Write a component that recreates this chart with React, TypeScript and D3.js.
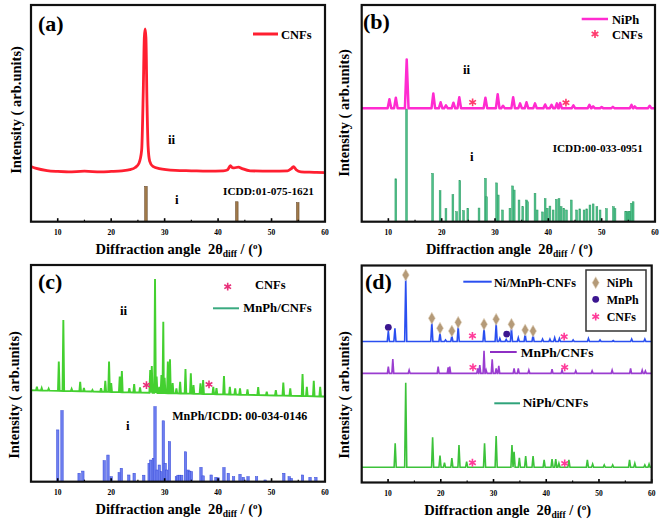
import React from "react";
import * as d3 from "d3";

type P = [number, number];

const X_DOMAIN: P = [5, 60];
const majorTicks = [10, 20, 30, 40, 50, 60];
const minorTicks = [5, 15, 25, 35, 45, 55];

// ---------- Panel (a) ----------
const aCNFsCurve: P[] = [
  [5, 25.5], [6, 24.6], [8, 23.6], [10, 23.2], [12, 23.0], [15, 23.3], [18, 23.0], [20, 23.2],
  [22, 23.5], [23.5, 24.0], [24.5, 25.0], [25.2, 27.0], [25.7, 33], [26.0, 60], [26.2, 85],
  [26.35, 89], [26.5, 85], [26.7, 55], [26.9, 35], [27.2, 28], [27.8, 25.5], [29, 24.5],
  [32, 23.7], [35, 23.5], [38, 23.3], [41, 23.5], [41.8, 24.0], [42.3, 25.9], [42.6, 25.0],
  [43, 24.8], [43.8, 25.2], [44.5, 24.5], [46, 23.5], [50, 23.3], [53, 23.5], [53.7, 24.5],
  [54.1, 25.4], [54.6, 24.0], [55.5, 23.0], [58, 22.8], [60, 22.6],
];
const aICDDBars: P[] = [[26.5, 16.3], [43.5, 9.2], [54.9, 8.8]];

// ---------- Panel (b) ----------
const bNiPhBase = 52.3;
const bNiPhPeaks: P[] = [
  [10.2, 56.5], [11.4, 57.2], [13.44, 74.9], [18.43, 59.2], [19.8, 55.1], [20.8, 53.7],
  [22.2, 54.9], [23.3, 57.4], [28.2, 57.2], [30.5, 58.8], [31.5, 53.5], [33.4, 57.4],
  [34.7, 54.6], [35.9, 55.1], [37.5, 54.6], [39.4, 54.1], [40.6, 53.9], [41.6, 54.6],
  [42.2, 54.8], [44.7, 53.7], [47.7, 53.9], [48.4, 53.2], [50.0, 52.9], [52.1, 53.0],
  [55.6, 53.9], [56.2, 53.2], [59.0, 53.5],
];
const bCNFsMarks: P[] = [[25.8, 55.1], [43.3, 54.9]];
const bICDDBars: P[] = [
  [11.4, 19.8], [13.4, 52], [18.3, 22.3], [19.7, 14.3], [20.8, 6], [22.1, 12.5], [22.8, 4.6],
  [23.4, 18.9], [24.1, 5.1], [24.9, 6.2], [27.0, 6.3], [28.2, 20], [28.4, 11.5], [30.3, 17.9],
  [30.6, 12.3], [31.4, 5.4], [32.8, 6.2], [33.3, 16.5], [33.6, 14.6], [34.5, 10], [35.2, 6.9],
  [35.9, 10], [36.1, 9.2], [37.5, 13.1], [37.9, 5.4], [38.9, 4.5], [39.4, 10.6], [39.8, 6.2],
  [40.3, 7.2], [40.9, 5.4], [41.5, 10.3], [42.0, 10.6], [42.4, 6.9], [42.9, 6.2], [43.4, 5.4],
  [44.3, 10], [45.3, 5.4], [45.9, 5.9], [46.7, 5.4], [47.2, 5.9], [47.8, 7.7], [48.4, 8.2],
  [49.1, 6.9], [49.7, 5.4], [50.9, 6], [52.2, 6.9], [52.5, 6], [54.5, 4.6], [54.8, 4.6],
  [55.1, 4.6], [55.3, 4.6], [55.6, 8.5], [55.9, 9.2],
];

// ---------- Panel (c) ----------
const cBaseEnds: P = [42.2, 39.3];
const cMnPhPeaks: P[] = [
  [6.1, 43.8], [7.0, 43.2], [8.3, 42.9], [10.2, 55.4], [11.05, 74.6], [12.6, 42.8], [14.2, 46.1],
  [14.9, 43.2], [16.5, 42.3], [18.1, 43.2], [18.9, 46.6], [19.6, 55.4], [20.0, 45.5], [21.6, 48.5],
  [22.0, 51.1], [23.4, 43.1], [24.3, 45.1], [25.4, 43.5], [27.3, 51.5], [27.6, 53.4], [28.2, 93.5],
  [28.5, 48.5], [29.0, 43.8], [29.4, 49.2], [29.75, 73.8], [30.0, 47.9], [30.6, 55.4], [31.0, 56.5],
  [31.5, 45.5], [32.2, 43.0], [32.9, 46.1], [33.9, 52.0], [34.9, 50.0], [35.4, 44.6], [36.7, 45.4],
  [37.2, 46.9], [39.1, 43.8], [39.7, 43.2], [41.1, 48.8], [42.2, 43.8], [43.2, 43.1], [44.1, 43.1],
  [45.5, 42.6], [47.5, 43.6], [49.1, 41.5], [50.8, 42.3], [52.2, 45.7], [53.5, 43.1], [55.8, 49.7],
  [56.6, 43.8], [57.9, 46.6], [59.1, 43.8],
];
const cCNFsMarks: P[] = [[26.6, 44.6], [38.3, 44.9]];
const cICDDBars: P[] = [
  [10.0, 23.9], [10.8, 32.8], [14.0, 3.9], [14.7, 4.9], [18.7, 9.7], [19.4, 12.3], [20.0, 2.3],
  [21.5, 4.2], [21.9, 6.2], [23.3, 3.1], [24.3, 3.9], [26.1, 3.0], [27.1, 8.5], [27.4, 10],
  [27.9, 10.8], [28.2, 34.6], [28.6, 5.4], [29.0, 7.7], [29.4, 4.6], [29.75, 28.1], [30.1, 8.5],
  [30.4, 5.4], [30.9, 18.5], [32.2, 2.3], [32.5, 3.0], [32.8, 3.0], [33.2, 3.0], [33.9, 13.8],
  [34.4, 5.4], [34.7, 4.9], [35.0, 4.6], [36.8, 6.6], [37.2, 2.7], [38.7, 3.1], [39.6, 2.0],
  [40.0, 1.8], [41.1, 6.5], [41.9, 3.9], [42.9, 2.3], [44.1, 3.4], [44.7, 2.0], [45.6, 2.3],
  [47.2, 2.3], [48.8, 0.8], [52.3, 3.9], [53.3, 2.3], [53.7, 1.5], [55.8, 3.1], [57.2, 2.0],
  [58.3, 2.0],
];

// ---------- Panel (d) ----------
const dNiMnBase = 65.0;
const dNiMnPeaks: P[] = [
  [10.05, 69.8], [11.3, 71.1], [13.35, 94.3], [18.3, 74.0], [19.85, 68.9], [20.9, 65.7],
  [22.1, 67.7], [23.3, 71.9], [28.2, 71.0], [30.5, 73.3], [31.2, 66.4], [32.4, 65.9],
  [33.4, 71.0], [34.7, 66.7], [36.0, 68.4], [37.5, 68.0], [39.3, 66.1], [40.7, 66.1],
  [41.6, 66.7], [42.5, 66.4], [45.1, 65.7], [48.0, 66.4], [50.2, 65.7], [52.7, 65.4],
  [56.2, 66.1], [58.7, 66.1],
];
const dNiPhDiamonds: P[] = [
  [13.35, 95.6], [18.3, 75.7], [19.85, 71.1], [22.1, 69.8], [23.3, 73.8], [28.2, 72.9],
  [30.5, 75.2], [33.4, 72.9], [36.0, 70.3], [37.5, 69.8],
];
const dMnPhDots: P[] = [[10.05, 71.5], [32.5, 68.4]];
const dNiMnCNFs: P[] = [[26.0, 67.6], [43.4, 67.2]];

const dMnPhBase = 50.3;
const dMnPhPeaks: P[] = [
  [10.05, 53.4], [10.9, 56.9], [14.0, 51.8], [19.5, 53.4], [21.4, 53.1], [21.7, 53.4],
  [27.0, 52.6], [27.4, 54.1], [28.2, 60.7], [28.6, 51.8], [29.75, 56.8], [30.5, 52.6],
  [31.0, 53.7], [33.9, 52.6], [34.7, 52.6], [36.7, 51.8], [41.1, 52.2], [43.0, 51.8],
  [45.6, 51.5], [48.7, 51.5], [52.5, 51.8], [56.0, 52.6], [58.2, 51.8], [58.8, 51.4],
];
const dMnPhCNFs: P[] = [[26.1, 53.1], [43.5, 53.1]];

const dNiPhBase = 7.0;
const dNiPhPeaks: P[] = [
  [11.35, 18.1], [13.35, 46.0], [18.45, 20.8], [19.85, 12.4], [20.7, 9.1], [22.1, 11.2],
  [23.45, 17.3], [24.9, 9.6], [28.3, 18.1], [30.5, 21.4], [33.5, 17.3], [33.9, 14.2],
  [34.9, 11.4], [36.1, 12.2], [37.5, 12.2], [39.6, 10.4], [41.1, 10.8], [41.8, 10.8],
  [42.4, 8.8], [44.3, 10.4], [47.8, 10.4], [48.8, 8.5], [51.0, 8.1], [52.6, 8.1],
  [55.8, 10.4], [56.8, 8.8], [58.7, 8.1], [59.5, 8.5],
];
const dNiPhCNFs: P[] = [[26.0, 9.1], [43.5, 8.8]];

// ---------- layout ----------
const FONT = "'Liberation Serif', 'Times New Roman', serif";
type Frame = { x0: number; x1: number; y0: number; y1: number };
const FA: Frame = { x0: 31, x1: 325, y0: 5, y1: 221.7 };
const FB: Frame = { x0: 361.7, x1: 655, y0: 5, y1: 221.7 };
const FC: Frame = { x0: 31, x1: 325, y0: 265, y1: 481.7 };
const FD: Frame = { x0: 361.7, x1: 651.7, y0: 265.5, y1: 482.5 };

const xs = (f: Frame) => d3.scaleLinear().domain(X_DOMAIN).range([f.x0, f.x1]);
const ys = (f: Frame) => d3.scaleLinear().domain([0, 100]).range([f.y1, f.y0]);

function spikes(peaks: P[], base: (x: number) => number, w: number): P[] {
  const pts: P[] = [[X_DOMAIN[0], base(X_DOMAIN[0])]];
  peaks.forEach(([p, top]) => {
    pts.push([p - w, base(p - w)], [p, top], [p + w, base(p + w)]);
  });
  pts.push([X_DOMAIN[1], base(X_DOMAIN[1])]);
  return pts.sort((a, b) => a[0] - b[0]);
}

function linePath(f: Frame, pts: P[], curve?: d3.CurveFactory) {
  const x = xs(f), y = ys(f);
  const l = d3.line<P>().x((d) => x(d[0])).y((d) => y(d[1]));
  if (curve) l.curve(curve);
  return l(pts) || "";
}

const Axes = ({ f, ylabel }: { f: Frame; ylabel: P }) => {
  const x = xs(f);
  return (
    <g>
      {majorTicks.map((t) => (
        <g key={"M" + t}>
          <line x1={x(t)} x2={x(t)} y1={f.y1} y2={f.y1 - 3.5} stroke="#000" strokeWidth={1.6} />
          <text x={x(t)} y={f.y1 + 13} fontSize={7.5} fontWeight="bold" textAnchor="middle" fontFamily={FONT}>{t}</text>
        </g>
      ))}
      {minorTicks.map((t) => (
        <line key={"m" + t} x1={x(t)} x2={x(t)} y1={f.y1} y2={f.y1 - 2} stroke="#000" strokeWidth={1.2} />
      ))}
      <text x={(f.x0 + f.x1) / 2 + 1} y={f.y1 + 32} fontSize={14.5} fontWeight="bold" textAnchor="middle" fontFamily={FONT} style={{ whiteSpace: "pre" }}>
        {"Diffraction angle  2θ"}<tspan fontSize={9.5} dy={3}>diff</tspan><tspan dy={-3}>{" / ("}</tspan><tspan fontSize={9} dy={-5}>o</tspan><tspan dy={5}>)</tspan>
      </text>
      <text transform={`translate(${ylabel[0]},${ylabel[1]}) rotate(-90)`} fontSize={14.5} fontWeight="bold" textAnchor="middle" dominantBaseline="central" fontFamily={FONT}>
        Intensity ( arb.units)
      </text>
    </g>
  );
};

const Frame = ({ f }: { f: Frame }) => (
  <rect x={f.x0} y={f.y0} width={f.x1 - f.x0} height={f.y1 - f.y0} fill="none" stroke="#111" strokeWidth={2.2} />
);

const Bars = ({ f, bars, color, stroke, w }: { f: Frame; bars: P[]; color: string; stroke: string; w: number }) => {
  const x = xs(f), y = ys(f);
  return (
    <g>
      {bars.map(([p, h], i) => (
        <rect key={i} x={x(p) - w / 2} y={y(h)} width={w} height={y(0) - y(h)} fill={color} stroke={stroke} strokeWidth={0.5} />
      ))}
    </g>
  );
};

const asteriskPath = d3.symbol().type(d3.symbolAsterisk).size(42)() || "";
const diamondPath = d3.symbol().type(d3.symbolDiamond).size(42)() || "";

const Asterisks = ({ f, pts, color }: { f: Frame; pts: P[]; color: string }) => {
  const x = xs(f), y = ys(f);
  return (
    <g>
      {pts.map(([a, b], i) => (
        <path key={i} d={asteriskPath} transform={`translate(${x(a)},${y(b)})`} fill="none" stroke={color} strokeWidth={1.6} />
      ))}
    </g>
  );
};

const T = (p: { x: number; y: number; s: number; children: React.ReactNode; anchor?: string }) => (
  <text x={p.x} y={p.y} fontSize={p.s} fontWeight="bold" fontFamily={FONT} textAnchor={p.anchor || "start"}>{p.children}</text>
);

export default function App() {
  const cBase = d3.scaleLinear().domain(X_DOMAIN).range(cBaseEnds);
  const xD = xs(FD), yD = ys(FD);
  return (
    <svg width={661} height={522} style={{ position: "absolute", left: 0, top: 0, background: "#fff" }}>
      <rect width={661} height={522} fill="#fff" />

      {/* (a) */}
      <Bars f={FA} bars={aICDDBars} color="#a07a4a" stroke="#5e3f22" w={2.6} />
      <path d={linePath(FA, aCNFsCurve, d3.curveMonotoneX)} fill="none" stroke="#ff1f30" strokeWidth={2.8} />
      <Axes f={FA} ylabel={[16, 110]} />
      <Frame f={FA} />
      <T x={38} y={31} s={22}>(a)</T>
      <line x1={253} x2={278} y1={34} y2={34} stroke="#ff1f30" strokeWidth={3} />
      <T x={281} y={38.5} s={12.5}>CNFs</T>
      <T x={168} y={143.5} s={13}>ii</T>
      <T x={175} y={203.5} s={13}>i</T>
      <T x={223} y={195} s={11.3}>ICDD:01-075-1621</T>

      {/* (b) */}
      <Bars f={FB} bars={bICDDBars} color="#4cc08a" stroke="#2e9a62" w={1.8} />
      <path d={linePath(FB, spikes(bNiPhPeaks, () => bNiPhBase, 0.34))} fill="none" stroke="#ff2bd0" strokeWidth={2.5} strokeLinejoin="round" />
      <Asterisks f={FB} pts={bCNFsMarks} color="#ff3b6e" />
      <Axes f={FB} ylabel={[344, 113]} />
      <Frame f={FB} />
      <T x={363} y={29} s={22}>(b)</T>
      <line x1={581.7} x2={608} y1={19} y2={19} stroke="#ff2bd0" strokeWidth={2.5} />
      <T x={612} y={23.5} s={12.5}>NiPh</T>
      <path d={asteriskPath} transform="translate(595,34)" fill="none" stroke="#ff3b6e" strokeWidth={1.6} />
      <T x={612} y={38.5} s={12.5}>CNFs</T>
      <T x={463} y={73.5} s={13}>ii</T>
      <T x={470} y={160.5} s={13}>i</T>
      <T x={552.7} y={151.5} s={11.2}>ICDD:00-033-0951</T>

      {/* (c) */}
      <Bars f={FC} bars={cICDDBars} color="#6e7ff0" stroke="#3347d8" w={2.4} />
      <path d={linePath(FC, spikes(cMnPhPeaks, (v) => cBase(v), 0.15))} fill="none" stroke="#44d030" strokeWidth={1.9} />
      <Asterisks f={FC} pts={cCNFsMarks} color="#e8307a" />
      <Axes f={FC} ylabel={[14, 395]} />
      <Frame f={FC} />
      <T x={38} y={289} s={22}>(c)</T>
      <path d={asteriskPath} transform="translate(227.7,286.7)" fill="none" stroke="#e8307a" strokeWidth={1.6} />
      <T x={255} y={288.5} s={12.5}>CNFs</T>
      <line x1={213} x2={239} y1={308.3} y2={308.3} stroke="#3aaa80" strokeWidth={2} />
      <T x={243.3} y={312} s={12.7}>MnPh/CNFs</T>
      <T x={120} y={315} s={13}>ii</T>
      <T x={126} y={430} s={13}>i</T>
      <T x={172.3} y={420} s={12}>MnPh/ICDD: 00-034-0146</T>

      {/* (d) */}
      <path d={linePath(FD, spikes(dNiPhPeaks, () => dNiPhBase, 0.2))} fill="none" stroke="#3cc23a" strokeWidth={1.6} />
      <path d={linePath(FD, spikes(dMnPhPeaks, () => dMnPhBase, 0.18))} fill="none" stroke="#9a3dd0" strokeWidth={1.6} />
      <path d={linePath(FD, spikes(dNiMnPeaks, () => dNiMnBase, 0.2))} fill="none" stroke="#2a4ff0" strokeWidth={1.6} />
      {dNiPhDiamonds.map(([a, b], i) => (
        <path key={"dm" + i} d={diamondPath} transform={`translate(${xD(a)},${yD(b)})`} fill="#b49a78" stroke="#e6d8c4" strokeWidth={0.6} />
      ))}
      {dMnPhDots.map(([a, b], i) => (
        <circle key={"dc" + i} cx={xD(a)} cy={yD(b)} r={3.4} fill="#3b1690" />
      ))}
      <Asterisks f={FD} pts={dNiMnCNFs} color="#ff3c9a" />
      <Asterisks f={FD} pts={dMnPhCNFs} color="#ff3c9a" />
      <Asterisks f={FD} pts={dNiPhCNFs} color="#ff3c9a" />
      <Axes f={FD} ylabel={[344, 395]} />
      <Frame f={FD} />
      <T x={365} y={289} s={22}>(d)</T>
      <line x1={463.3} x2={491.7} y1={281.7} y2={281.7} stroke="#2a4ff0" strokeWidth={2} />
      <T x={494} y={286.5} s={12.2}>Ni/MnPh-CNFs</T>
      <line x1={490} x2={516.7} y1={352} y2={352} stroke="#8e2fc4" strokeWidth={2} />
      <T x={520.7} y={356.5} s={13.5}>MnPh/CNFs</T>
      <line x1={494.3} x2={520} y1={403.3} y2={403.3} stroke="#2fa37a" strokeWidth={2} />
      <T x={522.7} y={407} s={13.4}>NiPh/CNFs</T>
      <rect x={586} y={270} width={60} height={61} fill="#fff" stroke="#333" strokeWidth={1.5} />
      <path d={diamondPath} transform="translate(595.7,282.7)" fill="#b49a78" stroke="#e6d8c4" strokeWidth={0.6} />
      <T x={606.7} y={287} s={12}>NiPh</T>
      <circle cx={595.7} cy={299.3} r={3.4} fill="#3b1690" />
      <T x={606.7} y={303.6} s={12}>MnPh</T>
      <path d={asteriskPath} transform="translate(595.7,316.7)" fill="none" stroke="#ff3c9a" strokeWidth={1.6} />
      <T x={606.7} y={321} s={12}>CNFs</T>
    </svg>
  );
}
